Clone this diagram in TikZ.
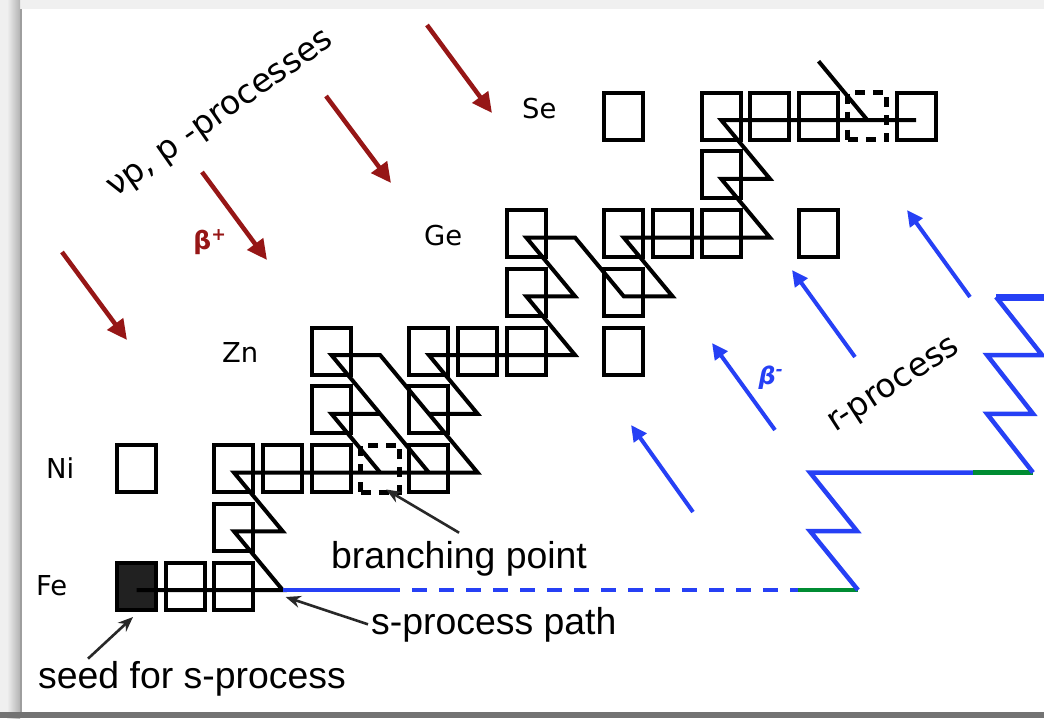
\documentclass[tikz,border=0pt]{standalone}
\usepackage{fontspec}
\setmainfont{Liberation Sans}
\newfontfamily\dejavu{DejaVu Sans}
\usepackage{tikz}
\usetikzlibrary{arrows.meta, positioning, calc}
\definecolor{decayred}{RGB}{150,22,22}
\definecolor{rblue}{RGB}{38,64,245}
\definecolor{rgreen}{RGB}{0,140,50}
\definecolor{ptrgray}{RGB}{40,40,40}

\begin{document}
\begin{tikzpicture}[x=1pt, y=-1pt,
  iso/.style={draw, line width=4pt, minimum width=39pt, minimum height=47pt, inner sep=0pt, yshift=4pt},
  seedbox/.style={iso, fill=black!87},
  branchbox/.style={iso, line width=5pt, dash pattern=on 10pt off 8pt},
  spath/.style={line width=4pt},
  rpath/.style={line width=4.5pt, rblue},
  decayp/.style={-{Triangle[length=20pt, width=19pt]}, line width=4.5pt, decayred},
  decaym/.style={-{Triangle[length=16pt, width=15pt]}, line width=4pt, rblue},
  ptr/.style={-{Stealth[length=15pt, width=12pt]}, line width=2.6pt, ptrgray},
  elem/.style={font=\dejavu\fontsize{27.4}{30}\selectfont, anchor=base west, inner sep=0pt},
  note/.style={font=\fontsize{37.4}{40}\selectfont, anchor=base west, inner sep=0pt},
  proc/.style={font=\dejavu\fontsize{33}{36}\selectfont, anchor=base, inner sep=0pt}
]
  \useasboundingbox (0,0) rectangle (1044,718);

  % frame
  \fill[black!6] (0,0) rectangle (1044,718);
  \shade[left color=black!6, right color=black!30] (7,0) rectangle (20,718);
  \fill[black!38] (20,9) rectangle (22,718);
  \fill[white] (22,9) rectangle (1044,712);
  \fill[black!55] (0,712) rectangle (1044,718);

  % grid of (N, Z) points, y on the path level
  \foreach \c in {0,...,16}
    \foreach \r in {0,...,9}
      \coordinate (g\c-\r) at ({136.5+48.72*\c}, {590-58.75*\r});

  % stable isotopes
  \node[seedbox] (fe56) at (g0-0) {};
  \foreach \name/\c/\r in {fe57/1/0, fe58/2/0, co59/2/1,
      ni58/0/2, ni60/2/2, ni61/3/2, ni62/4/2, ni64/6/2,
      cu63/4/3, cu65/6/3,
      zn64/4/4, zn66/6/4, zn67/7/4, zn68/8/4, zn70/10/4,
      ga69/8/5, ga71/10/5,
      ge70/8/6, ge72/10/6, ge73/11/6, ge74/12/6, ge76/14/6,
      as75/12/7,
      se74/10/8, se76/12/8, se77/13/8, se78/14/8, se80/16/8}
    \node[iso] (\name) at (g\c-\r) {};

  % branching points
  \node[branchbox] (ni63) at (g5-2) {};
  \node[branchbox] (se79) at (g15-8) {};

  % s-process path
  \draw[spath] (g0-0) -- (g3-0) -- (g2-1) -- (g3-1) -- (g2-2) -- (g7-2) -- (g5-4) -- (g4-4) -- (g6-2);
  \draw[spath] (g5-2) -- (g4-3) -- (g5-3);
  \draw[spath] (g6-3) -- (g7-3) -- (g6-4) -- (g9-4) -- (g8-5) -- (g9-5) -- (g8-6) -- (g9-6)
    -- (g10-5) -- (g11-5) -- (g10-6) -- (g13-6) -- (g12-7) -- (g13-7) -- (g12-8) -- (g16-8);
  \draw[spath] (g14-9) -- (g15-8);

  % r-process path
  \coordinate (rp0) at (385,590);
  \coordinate (rp1) at (798,590);
  \coordinate (rp2) at (858,590);
  \coordinate (rp3) at (810,531);
  \coordinate (rp4) at (857,531);
  \coordinate (rp5) at (810,472.5);
  \coordinate (rp6) at (973,472.5);
  \coordinate (rp7) at (1033,472.5);
  \coordinate (rp8) at (987,413.75);
  \coordinate (rp9) at (1033,413.75);
  \coordinate (rp10) at (987,355);
  \coordinate (rp11) at (1042,355);
  \coordinate (rp12) at (996,297);
  \coordinate (rp13) at (1044,297);
  \draw[rpath] (g3-0) -- (rp0);
  \draw[rpath, dash pattern=on 15pt off 12pt] (rp0) -- (rp1);
  \draw[rpath, rgreen] (rp1) -- (rp2);
  \draw[rpath] (rp2) -- (rp3) -- (rp4) -- (rp5) -- (rp6);
  \draw[rpath, rgreen] (rp6) -- (rp7);
  \draw[rpath] (rp7) -- (rp8) -- (rp9) -- (rp10) -- (rp11) -- (rp12);
  \draw[rpath, line width=7pt] (rp12) -- (rp13);

  % beta+ arrows
  \foreach \xa/\ya/\xb/\yb [count=\i] in {62/252/127/340, 202/172/267/260, 326/96/391/183, 427/25/492/113} {
    \coordinate (bps\i) at (\xa,\ya);
    \coordinate (bpe\i) at (\xb,\yb);
    \draw[decayp] (bps\i) -- (bpe\i);
  }

  % beta- arrows
  \foreach \xa/\ya/\xb/\yb [count=\i] in {693/512/631/425, 775/430/712/343, 855/357/792/270, 970/297/907/210} {
    \coordinate (bms\i) at (\xa,\ya);
    \coordinate (bme\i) at (\xb,\yb);
    \draw[decaym] (bms\i) -- (bme\i);
  }

  % element labels
  \node[elem] (fe) at (36,595) {Fe};
  \node[elem] (ni) at (46,478) {Ni};
  \node[elem] (zn) at (222,362) {Zn};
  \node[elem] (ge) at (424,245) {Ge};
  \node[elem] (se) at (522,118) {Se};

  % process labels
  \node[proc, rotate=35] (pproc) at (225,121) {νp, p -processes};
  \node[proc, rotate=33] (rproc) at (898,392) {r-process};
  \node[font=\dejavu\bfseries\fontsize{25}{27}\selectfont, text=decayred] (bplus) at (210,242) {β\textsuperscript{+}};
  \node[font=\dejavu\bfseries\itshape\fontsize{24}{26}\selectfont, text=rblue] (bminus) at (771,378) {β\textsuperscript{-}};

  % notes
  \node[note] (seedlbl) at (38,688) {seed for s-process};
  \node[note] (splbl) at (371,634) {s-process path};
  \node[note] (bplbl) at (331,568) {branching point};

  \draw[ptr] ([xshift=50pt, yshift=2pt]seedlbl.north west) -- ([xshift=-3.5pt, yshift=-5.5pt]fe56.south);
  \draw[ptr] ([xshift=-3pt]splbl.west) -- ([xshift=3pt, yshift=-7pt]g3-0);
  \draw[ptr] ([yshift=8pt]bplbl.north) -- ([xshift=6pt, yshift=5pt]ni63.south);
\end{tikzpicture}
\end{document}
